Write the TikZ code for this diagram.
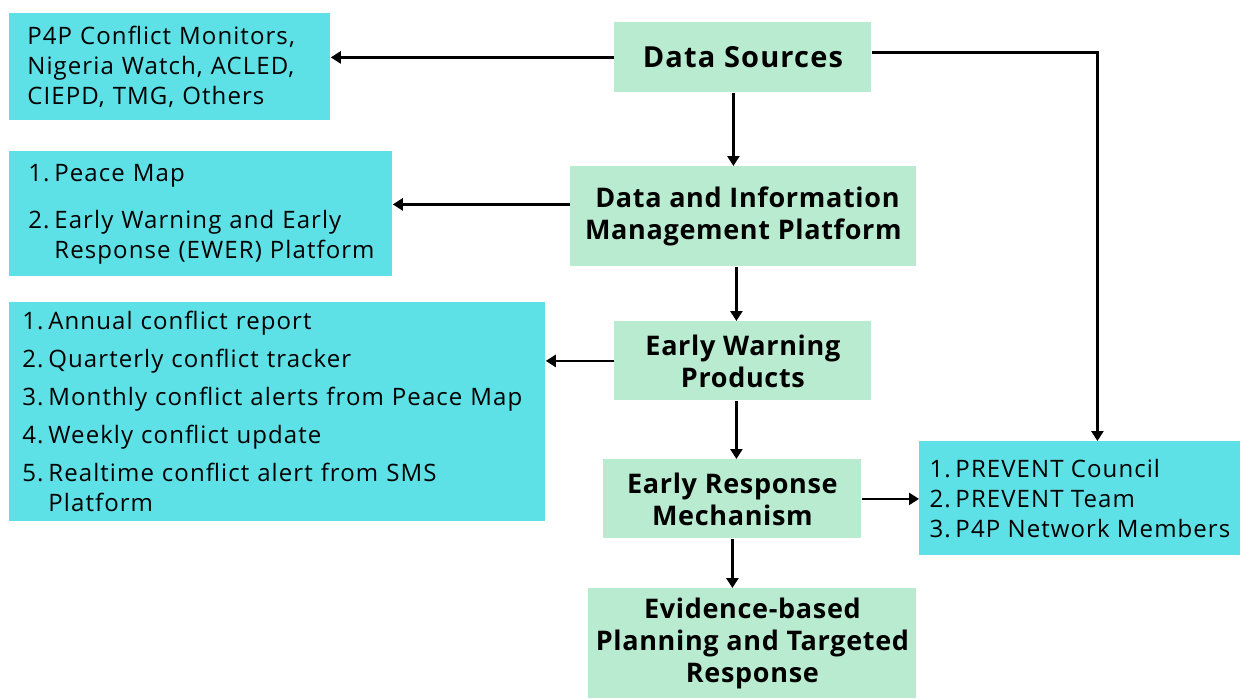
\documentclass[tikz,border=0pt]{standalone}
\usepackage{fontspec}
\setmainfont{Open Sans}[LetterSpace=4.5]
\usetikzlibrary{arrows.meta}
\definecolor{cyanbox}{HTML}{5EE1E6}
\definecolor{greenbox}{HTML}{B8EBD0}
% numbered item with a fixed-width label
\newcommand{\numitem}[3][13pt]{\makebox[#1][l]{#2}#3}
\begin{document}
\begin{tikzpicture}[x=0.5pt,y=-0.5pt,
  listbox/.style={rectangle, fill=cyanbox, anchor=north west, align=left,
    inner ysep=0pt, font=\fontsize{12}{15}\selectfont},
  stagebox/.style={rectangle, fill=greenbox, anchor=north west, align=center,
    inner sep=0pt, font=\fontsize{13.5}{16}\selectfont\bfseries\addfontfeatures{LetterSpace=2.5}},
  arr/.style={line width=1.4pt, -{Triangle[length=5pt,width=6pt]}}]
\useasboundingbox (0,0) rectangle (1240,698);

% side lists
\node[listbox, inner xsep=9pt, minimum width=160.5pt, minimum height=53.5pt, text width=142.5pt]
  (src) at (9,13) {P4P Conflict Monitors,\\ Nigeria Watch, ACLED,\\ CIEPD, TMG, Others};
\node[listbox, inner xsep=9.5pt, minimum width=191.5pt, minimum height=62.5pt, text width=172.5pt]
  (tools) at (9,151) {\numitem{1.}{Peace Map}\\[8.5pt]
    \numitem{2.}{Early Warning and Early}\\ \hspace*{13pt}Response (EWER) Platform};
\node[listbox, inner xsep=6.5pt, minimum width=268pt, minimum height=109.5pt, text width=255pt]
  (prods) at (9,302) {\numitem{1.}{Annual conflict report}\\[4pt]
    \numitem{2.}{Quarterly conflict tracker}\\[4pt]
    \numitem{3.}{Monthly conflict alerts from Peace Map}\\[4pt]
    \numitem{4.}{Weekly conflict update}\\[4pt]
    \numitem{5.}{Realtime conflict alert from SMS}\\ \hspace*{13pt}Platform};
\node[listbox, inner xsep=0pt, minimum width=160.5pt, minimum height=57pt]
  (actors) at (919,441) {\numitem{1.}{PREVENT Council}\\
    \numitem{2.}{PREVENT Team}\\ \numitem{3.}{P4P Network Members}};

% main stages
\node[stagebox, minimum width=128.5pt, minimum height=35pt,
  font=\fontsize{14.5}{16}\selectfont\bfseries\addfontfeatures{LetterSpace=4}]
  (ds) at (614,22) {Data Sources};
\node[stagebox, minimum width=173pt, minimum height=50pt] (dimp) at (570,166)
  {\hspace*{4pt}Data and Information\\ Management Platform};
\node[stagebox, minimum width=128.5pt, minimum height=39.5pt] (ewp) at (614,321)
  {Early Warning\\ Products};
\node[stagebox, minimum width=129pt, minimum height=39.5pt] (erm) at (603,459)
  {Early Response\\ Mechanism};
\node[stagebox, minimum width=164pt, minimum height=55pt] (ebp) at (588,588)
  {Evidence-based\\ Planning and Targeted\\ Response};

% connector start points offset from the box centres
\coordinate (dimpW) at ([yshift=6pt]dimp.west);
\coordinate (dsE) at ([yshift=2.5pt]ds.east);
\coordinate (dsS) at ([xshift=-4.75pt]ds.south);
\coordinate (dimpS) at ([xshift=-3.5pt]dimp.south);
\coordinate (ewpS) at ([xshift=-3.25pt]ewp.south);

% connectors
\draw[arr] (ds.west) -- (src.east |- ds.west);
\draw[arr] (dsE) -| ([xshift=8.75pt]actors.north);
\draw[arr] (dsS) -- (dsS |- dimp.north);
\draw[arr] (dimpW) -- (tools.east |- dimpW);
\draw[arr] (dimpS) -- (dimpS |- ewp.north);
\draw[arr] (ewp.west) -- (prods.east |- ewp.west);
\draw[arr] (ewpS) -- (ewpS |- erm.north);
\draw[arr] (erm.east) -- (actors.west |- erm.east);
\draw[arr] (erm.south) -- (erm.south |- ebp.north);
\end{tikzpicture}
\end{document}
